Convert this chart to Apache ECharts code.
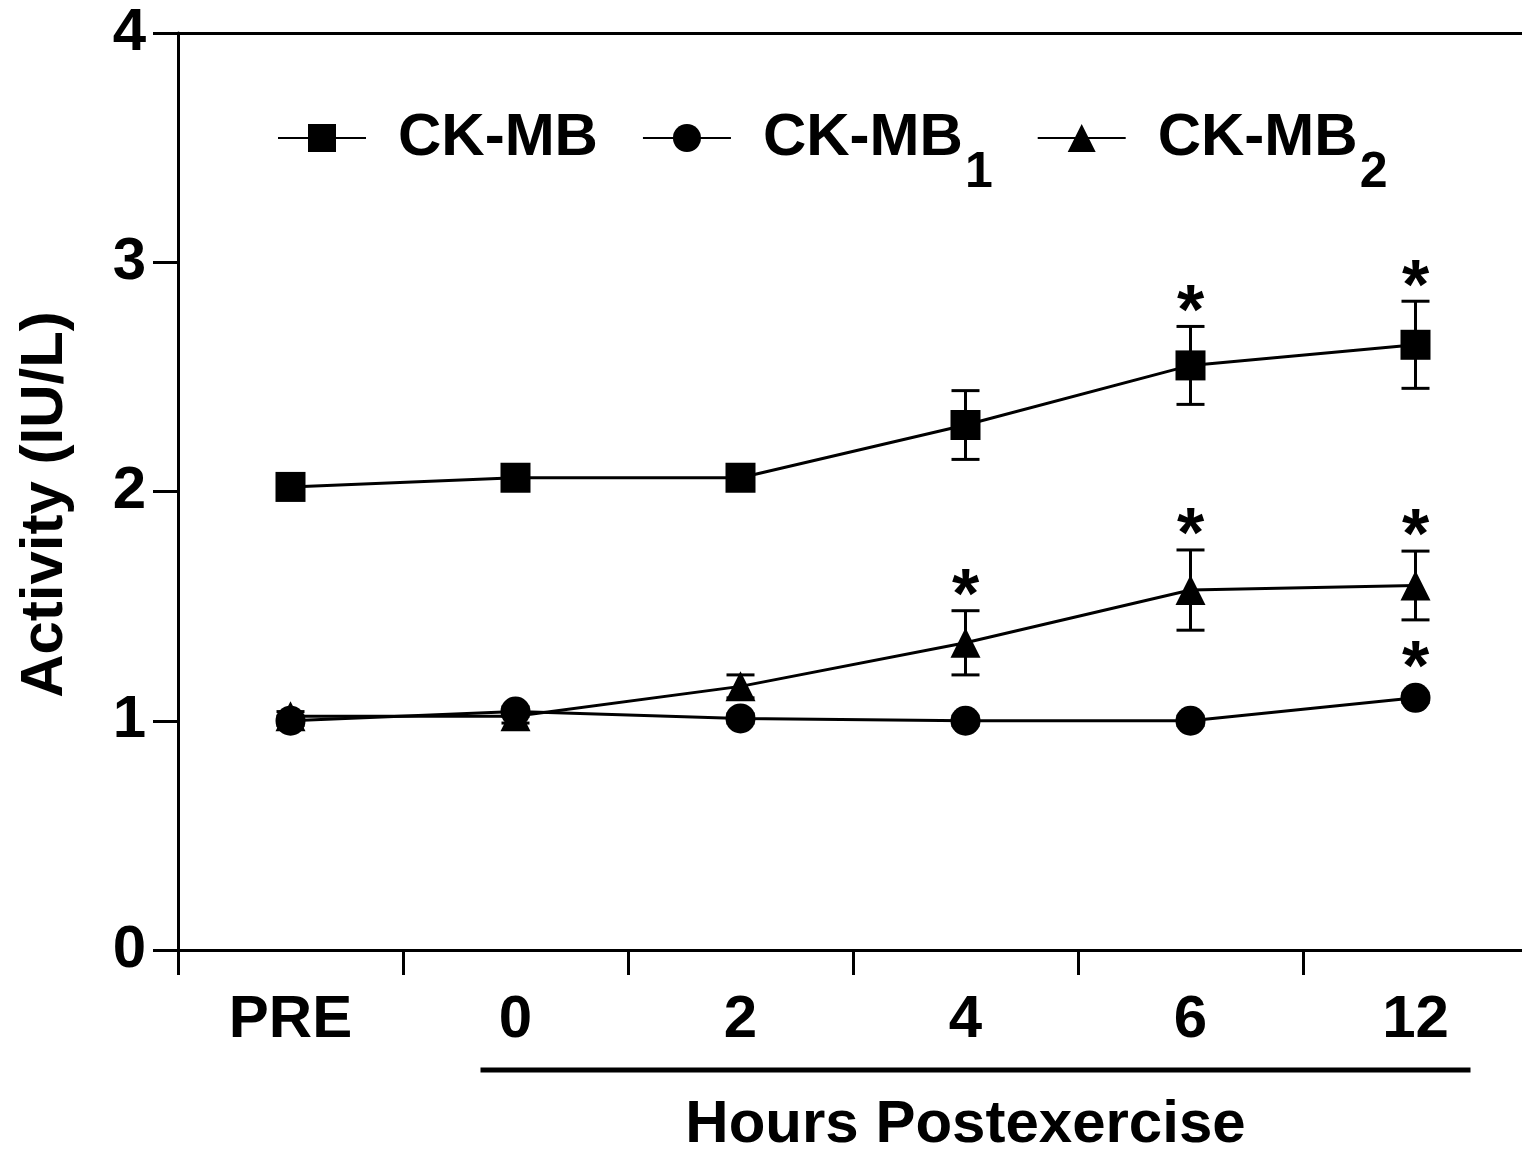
<!DOCTYPE html>
<html>
<head>
<meta charset="utf-8">
<script src="https://cdn.jsdelivr.net/npm/echarts@6/dist/echarts.min.js"></script>
<style>
html, body { margin: 0; padding: 0; overflow: hidden; background: #fff; }
#chart { width: 1528px; height: 1153px; }
</style>
</head>
<body>
<div id="chart"></div>
<script>
const categories = ['PRE', '0', '2', '4', '6', '12'];
const yTicks = [0, 1, 2, 3, 4];

const ckmb     = [2.02, 2.06, 2.06, 2.29, 2.55, 2.64];
const ckmbErr  = [0.03, 0.03, 0.03, 0.15, 0.17, 0.19];
const ckmbSig  = [0, 0, 0, 0, 1, 1];

const ckmb1    = [1.00, 1.04, 1.01, 1.00, 1.00, 1.10];
const ckmb1Err = [0.02, 0.02, 0.02, 0.02, 0.02, 0.02];
const ckmb1Sig = [0, 0, 0, 0, 0, 1];

const ckmb2    = [1.02, 1.02, 1.15, 1.34, 1.57, 1.59];
const ckmb2Err = [0.02, 0.03, 0.05, 0.14, 0.175, 0.15];
const ckmb2Sig = [0, 0, 0, 1, 1, 1];

const seriesNames = ['CK-MB', 'CK-MB1', 'CK-MB2'];

const FONT = '"Liberation Sans", Arial, Helvetica, sans-serif';
const MARK = 30;
const chart = echarts.init(document.getElementById('chart'));

function errData(vals, errs, sigs) {
  return vals.map((v, i) => [i, v, errs[i], sigs[i]]);
}

function renderErr(params, api) {
  const x = api.value(0), y = api.value(1), e = api.value(2), s = api.value(3);
  const top = api.coord([x, y + e]);
  const bot = api.coord([x, y - e]);
  const mid = api.coord([x, y]);
  const hw = 14;
  const ls = { stroke: '#000', lineWidth: 3 };
  const children = [
    { type: 'line', shape: { x1: top[0], y1: top[1], x2: bot[0], y2: bot[1] }, style: ls },
    { type: 'line', shape: { x1: top[0] - hw, y1: top[1], x2: top[0] + hw, y2: top[1] }, style: ls },
    { type: 'line', shape: { x1: bot[0] - hw, y1: bot[1], x2: bot[0] + hw, y2: bot[1] }, style: ls }
  ];
  if (s) {
    const anchor = Math.min(top[1], mid[1] - MARK / 2);
    children.push({
      type: 'text',
      style: {
        text: '*', x: top[0], y: anchor - 12,
        fontSize: 70, fontWeight: 'bold', fontFamily: FONT,
        align: 'center', verticalAlign: 'middle', fill: '#000'
      }
    });
  }
  return { type: 'group', children };
}

function lineSeries(name, data, symbol) {
  return {
    name, type: 'line', data, symbol, symbolSize: MARK,
    itemStyle: { color: '#000' },
    lineStyle: { color: '#000', width: 3 },
    z: 3, animation: false
  };
}

function errSeries(vals, errs, sigs) {
  return {
    type: 'custom', renderItem: renderErr, data: errData(vals, errs, sigs),
    encode: { x: 0, y: 1 }, z: 2, animation: false, silent: true
  };
}

const option = {
  backgroundColor: '#fff',
  animation: false,
  grid: { left: 178, right: 0, top: 33, bottom: 203 },
  legend: {
    data: seriesNames,
    left: 272, top: 103,
    itemWidth: 88, itemHeight: 35, itemGap: 44,
    selectedMode: false,
    formatter: function (name) {
      if (name === 'CK-MB') return '{c|CK-MB}';
      return '{m|CK-MB}{s|' + name.slice(-1) + '}';
    },
    textStyle: {
      color: '#000', fontSize: 60, fontWeight: 'bold', fontFamily: FONT,
      rich: {
        c: { color: '#000', fontSize: 60, fontWeight: 'bold', fontFamily: FONT, lineHeight: 84, padding: [0, 0, 0, 27] },
        m: { color: '#000', fontSize: 60, fontWeight: 'bold', fontFamily: FONT, lineHeight: 60, verticalAlign: 'top', padding: [0, 0, 0, 27] },
        s: { color: '#000', fontSize: 50, fontWeight: 'bold', fontFamily: FONT, lineHeight: 44, verticalAlign: 'top', padding: [40, 0, 0, 2] }
      }
    }
  },
  xAxis: [{
    type: 'category', data: categories, boundaryGap: true,
    axisLine: { lineStyle: { color: '#000', width: 3 } },
    axisTick: { show: true, length: 25, lineStyle: { color: '#000', width: 3 } },
    axisLabel: { color: '#000', fontSize: 60, fontWeight: 'bold', fontFamily: FONT, margin: 40 },
    splitLine: { show: false }
  }, {
    type: 'category', data: categories, position: 'top', boundaryGap: true,
    axisLine: { show: true, lineStyle: { color: '#000', width: 3 } },
    axisTick: { show: false }, axisLabel: { show: false }, splitLine: { show: false }
  }],
  yAxis: {
    type: 'value', min: yTicks[0], max: yTicks[yTicks.length - 1], interval: 1,
    name: 'Activity (IU/L)', nameLocation: 'middle', nameGap: 103,
    nameTextStyle: { color: '#000', fontSize: 60, fontWeight: 'bold', fontFamily: FONT, padding: [0, 26, 0, 0] },
    axisLine: { show: true, lineStyle: { color: '#000', width: 3 } },
    axisTick: { show: true, length: 25, lineStyle: { color: '#000', width: 3 } },
    axisLabel: { color: '#000', fontSize: 60, fontWeight: 'bold', fontFamily: FONT, margin: 32 },
    splitLine: { show: false }
  },
  series: [
    errSeries(ckmb, ckmbErr, ckmbSig),
    errSeries(ckmb1, ckmb1Err, ckmb1Sig),
    errSeries(ckmb2, ckmb2Err, ckmb2Sig),
    lineSeries('CK-MB2', ckmb2, 'triangle'),
    lineSeries('CK-MB1', ckmb1, 'circle'),
    lineSeries('CK-MB', ckmb, 'rect')
  ]
};
chart.setOption(option);

// Bracket under the post-exercise hours, with its caption
const x0 = chart.convertToPixel({ xAxisIndex: 0 }, 1);
const x1 = chart.convertToPixel({ xAxisIndex: 0 }, categories.length - 1);
const yBase = chart.convertToPixel({ yAxisIndex: 0 }, 0);
chart.setOption({
  graphic: [
    { type: 'line', shape: { x1: x0 - 35, y1: yBase + 120, x2: x1 + 55, y2: yBase + 120 },
      style: { stroke: '#000', lineWidth: 5 } },
    { type: 'text', x: (x0 + x1) / 2, y: yBase + 175,
      style: { text: 'Hours Postexercise', fontSize: 60, fontWeight: 'bold', fontFamily: FONT,
               fill: '#000', align: 'center', verticalAlign: 'middle' } }
  ]
});
</script>
</body>
</html>
